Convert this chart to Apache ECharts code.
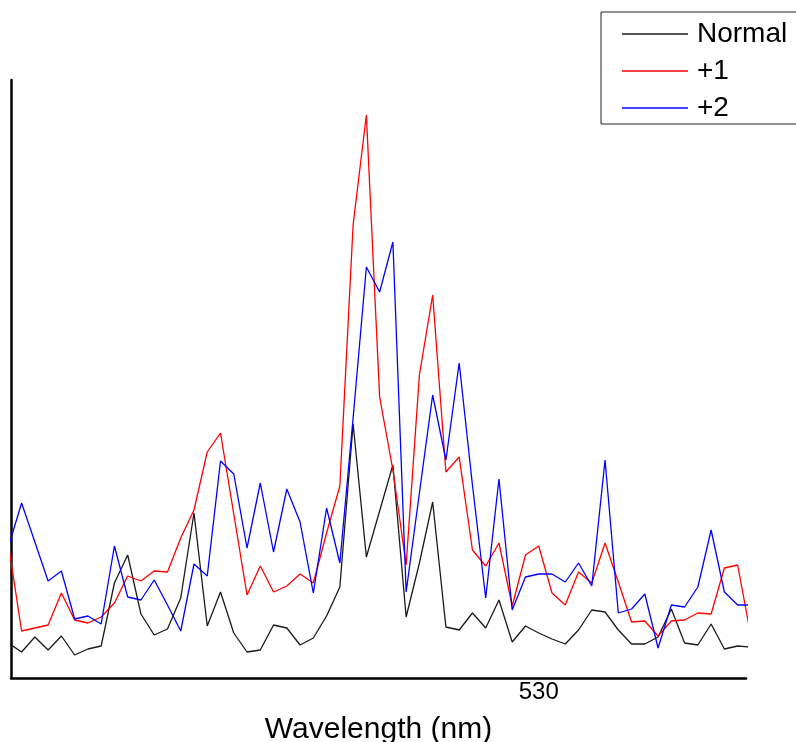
<!DOCTYPE html>
<html>
<head>
<meta charset="utf-8">
<script src="https://cdn.jsdelivr.net/npm/echarts@6/dist/echarts.min.js"></script>
<style>
  html, body { margin: 0; padding: 0; background: #fff; }
  #chart { width: 796px; height: 742px; }
</style>
</head>
<body>
<div id="chart"></div>
<script>
// wavelength of each sample (nm)
const wavelengths = [
  526.0, 526.1, 526.2, 526.3, 526.4, 526.5, 526.6, 526.7, 526.8, 526.9,
  527.0, 527.1, 527.2, 527.3, 527.4, 527.5, 527.6, 527.7, 527.8, 527.9,
  528.0, 528.1, 528.2, 528.3, 528.4, 528.5, 528.6, 528.7, 528.8, 528.9,
  529.0, 529.1, 529.2, 529.3, 529.4, 529.5, 529.6, 529.7, 529.8, 529.9,
  530.0, 530.1, 530.2, 530.3, 530.4, 530.5, 530.6, 530.7, 530.8, 530.9,
  531.0, 531.1, 531.2, 531.3, 531.4, 531.5, 531.6
];

// intensity, arbitrary units
const normal = [
  37, 28, 43, 30, 44, 25, 31, 34, 97, 125,
  66, 45, 51, 82, 167, 54, 88, 47, 28, 30,
  55, 52, 35, 42, 64, 93, 256, 123, 169, 215,
  63, 117, 178, 53, 50, 67, 52, 80, 38, 54,
  47, 41, 36, 50, 70, 68, 50, 36, 36, 43,
  71, 37, 35, 56, 31, 34, 33
];
const plus1 = [
  136, 49, 52, 55, 87, 60, 57, 63, 77, 104,
  99, 109, 108, 142, 170, 228, 247, 166, 85, 114,
  88, 94, 106, 97, 147, 194, 455, 565, 283, 210,
  115, 305, 385, 208, 223, 130, 114, 137, 74, 125,
  134, 87, 75, 108, 97, 137, 98, 58, 59, 44,
  59, 60, 67, 66, 112, 115, 44
];
const plus2 = [
  133, 177, 138, 99, 109, 61, 64, 56, 134, 83,
  80, 100, 75, 49, 116, 104, 219, 206, 132, 197,
  128, 191, 158, 87, 172, 117, 262, 413, 388, 438,
  88, 187, 285, 220, 317, 195, 82, 201, 70, 103,
  106, 106, 98, 117, 94, 220, 67, 71, 86, 32,
  75, 73, 93, 150, 88, 75, 75
];
const xTickLabels = [530];

function pairs(values) {
  return values.map((v, i) => [wavelengths[i], v]);
}

const chart = echarts.init(document.getElementById("chart"));

const option = {
  animation: false,
  textStyle: { fontFamily: "Liberation Sans, Arial, sans-serif" },
  grid: { left: 11, right: 50, top: 80, bottom: 64, outerBoundsMode: "none" },
  legend: {
    left: 601,
    top: 12,
    orient: "vertical",
    backgroundColor: "#fff",
    borderColor: "#222",
    borderWidth: 1,
    borderRadius: 0,
    padding: [8, 40, 2, 21],
    itemGap: 9,
    itemWidth: 66,
    itemHeight: 1.5,
    icon: "rect",
    textStyle: { fontSize: 28, color: "#000", padding: [0, 0, 0, 4] },
    data: ["Normal", "+1", "+2"],
  },
  xAxis: {
    type: "value",
    min: 526.02,
    max: 531.563,
    name: "Wavelength (nm)",
    nameLocation: "middle",
    nameGap: 37,
    nameTextStyle: { fontSize: 30, color: "#000" },
    axisLine: { lineStyle: { color: "#000", width: 2.5 } },
    axisTick: { show: false },
    splitLine: { show: false },
    axisLabel: {
      customValues: xTickLabels,
      fontSize: 24,
      color: "#000",
      margin: 2,
    },
  },
  yAxis: {
    type: "value",
    min: 2,
    max: 600,
    axisLine: { show: true, lineStyle: { color: "#000", width: 2.5 } },
    axisTick: { show: false },
    axisLabel: { show: false },
    splitLine: { show: false },
  },
  series: [
    {
      name: "Normal",
      type: "line",
      data: pairs(normal),
      symbol: "none",
      lineStyle: { color: "#1a1a1a", width: 1.3 },
      itemStyle: { color: "#1a1a1a" },
    },
    {
      name: "+1",
      type: "line",
      data: pairs(plus1),
      symbol: "none",
      lineStyle: { color: "#ff0000", width: 1.3 },
      itemStyle: { color: "#ff0000" },
    },
    {
      name: "+2",
      type: "line",
      data: pairs(plus2),
      symbol: "none",
      lineStyle: { color: "#0000ff", width: 1.3 },
      itemStyle: { color: "#0000ff" },
    },
  ],
};

chart.setOption(option);
</script>
</body>
</html>
